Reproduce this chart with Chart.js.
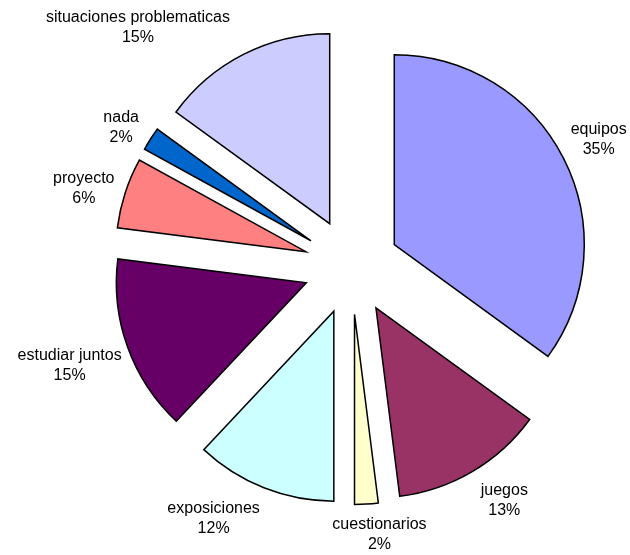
<!DOCTYPE html>
<html><head><meta charset="utf-8">
<script src="https://cdn.jsdelivr.net/npm/chart.js@4/dist/chart.umd.min.js"></script>
<style>html,body{margin:0;padding:0;background:#fff}#wrap{width:630px;height:555px;position:relative}</style>
</head><body><div id="wrap"><canvas id="c"></canvas></div>
<script>
const categories = ['equipos','juegos','cuestionarios','exposiciones','estudiar juntos','proyecto','nada','situaciones problematicas'];
const values = [35,13,2,12,15,6,2,15];
const colors = ['#9999FF','#993366','#FFFFCC','#CCFFFF','#660066','#FF8080','#0066CC','#CCCCFF'];

const EXPLODE = 48;
const LABEL_GAP = 17;
const FONT = '16px "Liberation Sans", Arial, sans-serif';
const LINE = 20;
const labelNudge = [[-5,-2],[11,-3],[9,-6],[-27,-4],[7,6],[4,7],[0,8],[-56,6]];

const explodePlugin = {
  id: 'explode',
  beforeDatasetDraw(chart, args) {
    const meta = chart.getDatasetMeta(args.index);
    meta.data.forEach(arc => {
      arc._ox = arc.x; arc._oy = arc.y;
      const mid = (arc.startAngle + arc.endAngle) / 2;
      arc.x += Math.cos(mid) * EXPLODE;
      arc.y += Math.sin(mid) * EXPLODE;
    });
  },
  afterDatasetDraw(chart, args) {
    const meta = chart.getDatasetMeta(args.index);
    meta.data.forEach(arc => { arc.x = arc._ox; arc.y = arc._oy; });
  }
};

const labelPlugin = {
  id: 'sliceLabels',
  afterDatasetsDraw(chart) {
    const ctx = chart.ctx;
    const meta = chart.getDatasetMeta(0);
    const total = values.reduce((a, b) => a + b, 0);
    ctx.save();
    ctx.font = FONT;
    ctx.fillStyle = '#000';
    ctx.textAlign = 'center';
    ctx.textBaseline = 'middle';
    meta.data.forEach((arc, i) => {
      const mid = (arc.startAngle + arc.endAngle) / 2;
      const ux = Math.cos(mid), uy = Math.sin(mid);
      const lines = [categories[i], Math.round(values[i] / total * 100) + '%'];
      const w = Math.max(...lines.map(t => ctx.measureText(t).width));
      const h = LINE * lines.length;
      const d = arc.outerRadius + EXPLODE + LABEL_GAP;
      const cx = arc.x + ux * d + ux * w / 2 + labelNudge[i][0];
      const cy = arc.y + uy * d + uy * h / 2 + labelNudge[i][1];
      lines.forEach((t, k) => {
        ctx.fillText(t, cx, cy + (k - (lines.length - 1) / 2) * LINE);
      });
    });
    ctx.restore();
  }
};

new Chart(document.getElementById('c'), {
  type: 'pie',
  data: {
    labels: categories,
    datasets: [{
      data: values,
      backgroundColor: colors,
      borderColor: '#000',
      borderWidth: 1.5,
      borderJoinStyle: 'miter'
    }]
  },
  options: {
    responsive: true,
    maintainAspectRatio: false,
    animation: false,
    events: [],
    radius: 190,
    layout: { padding: { left: 73, right: 0, top: 0, bottom: 22 } },
    plugins: { legend: { display: false }, tooltip: { enabled: false } }
  },
  plugins: [explodePlugin, labelPlugin]
});
</script>
</body></html>
